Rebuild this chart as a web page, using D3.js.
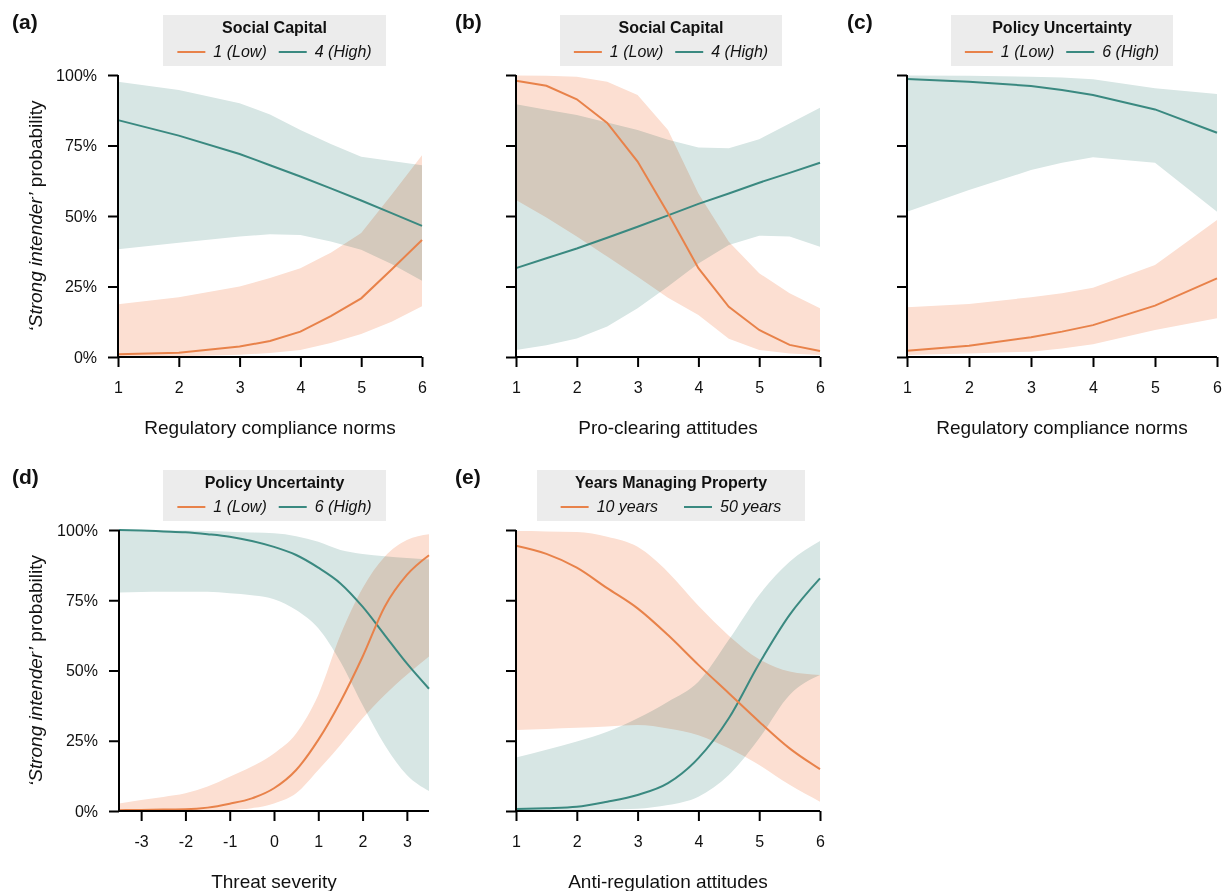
<!DOCTYPE html>
<html>
<head>
<meta charset="utf-8">
<script src="https://cdn.jsdelivr.net/npm/d3@7"></script>
<style>
body { margin: 0; background: #fff; }
svg text { font-family: "Liberation Sans", Arial, sans-serif; fill: #111; }
</style>
</head>
<body>
<svg width="1226" height="891"></svg>
<script>
var ORANGE = '#e8824a', TEAL = '#3a8980';
var ORANGE_BAND = '#fcdfd2', TEAL_BAND = '#d7e6e4';

// (a) social capital x regulatory compliance norms
var aX          = [1, 2, 3, 3.5, 4, 4.5, 5, 5.5, 6];
var aTealMid    = [84, 78.5, 72, 68, 64, 59.8, 55.5, 51, 46.5];
var aTealHi     = [97.6, 94.7, 90, 86, 80.5, 75.5, 71, 69.5, 68];
var aTealLo     = [38.2, 40.5, 42.7, 43.5, 43.3, 41, 38, 33, 27];
var aOrangeMid  = [1, 1.5, 3.7, 5.7, 9, 14.5, 20.8, 31, 41.5];
var aOrangeHi   = [18.7, 21.2, 25, 28, 31.5, 37, 44, 57.5, 71.5];
var aOrangeLo   = [0.1, 0.3, 0.8, 1.4, 2.5, 5, 8.2, 12.5, 18];

// (b) social capital x pro-clearing attitudes
var bX          = [1, 1.5, 2, 2.5, 3, 3.5, 4, 4.5, 5, 5.5, 6];
var bTealMid    = [31.5, 35, 38.5, 42.3, 46.2, 50.2, 54.3, 58, 61.8, 65.3, 68.9];
var bTealHi     = [89.6, 87.7, 85.8, 83.2, 80.5, 77, 74.3, 74, 77.2, 82.8, 88.4];
var bTealLo     = [2.5, 4.2, 6.6, 10.8, 17.3, 25, 33.2, 39.7, 43, 42.7, 39.1];
var bOrangeMid  = [98, 96.2, 91.4, 83, 69.3, 51, 31.5, 17.8, 9.6, 4.3, 2.1];
var bOrangeHi   = [99.8, 99.7, 99.4, 97.6, 92.9, 80.5, 58, 40.9, 29.7, 22.6, 17.3];
var bOrangeLo   = [55.7, 49.5, 42.7, 35.6, 28.5, 21, 14.9, 6.5, 2.5, 1.2, 0.7];

// (c) policy uncertainty x regulatory compliance norms
var cX          = [1, 2, 3, 3.5, 4, 5, 6];
var cTealMid    = [98.6, 97.6, 96.1, 94.7, 92.9, 87.8, 79.5];
var cTealHi     = [99.8, 99.7, 99.4, 99.1, 98.5, 95.3, 93.3];
var cTealLo     = [51.5, 59.2, 66.3, 68.9, 70.8, 68.9, 51.5];
var cOrangeMid  = [2.2, 4, 7, 9, 11.3, 18.2, 27.9];
var cOrangeHi   = [17.6, 18.8, 21.2, 22.6, 24.6, 32.6, 48.6];
var cOrangeLo   = [0.7, 1.2, 1.9, 3, 4.5, 9.6, 13.7];

// (d) policy uncertainty x threat severity
var dX          = [-3.5, -3, -2.5, -2, -1.5, -1, -0.5, 0, 0.5, 1, 1.5, 2, 2.5, 3, 3.5];
var dTealMid    = [100, 99.8, 99.5, 99.2, 98.5, 97.6, 96.1, 94, 91.1, 86.6, 81, 72.7, 62.6, 52.5, 43.5];
var dTealHi     = [100, 100, 99.9, 99.8, 99.6, 99.4, 99.1, 98.8, 97.8, 95.8, 92.9, 91.5, 90.7, 90, 89.5];
var dTealLo     = [77.8, 77.9, 78, 78, 78, 77.5, 76.8, 75.4, 71.5, 65, 53.1, 37.7, 23.5, 12.8, 7.1];
var dOrangeMid  = [0.3, 0.4, 0.5, 0.6, 1.2, 2.6, 4.5, 8.1, 14.6, 25.3, 38.9, 54.9, 72.7, 84, 91];
var dOrangeHi   = [2.7, 3.9, 5, 6.3, 8.7, 12.2, 15.8, 20.5, 27.6, 41.3, 62.6, 79.3, 90.5, 96.4, 98.5];
var dOrangeLo   = [0, 0, 0.1, 0.1, 0.2, 0.4, 1, 2.7, 6.3, 14.6, 23.5, 33, 41.3, 48.5, 55];

// (e) years managing property x anti-regulation attitudes
var eX          = [1, 1.5, 2, 2.5, 3, 3.5, 4, 4.5, 5, 5.5, 6];
var eOrangeMid  = [94.4, 91.5, 86.6, 79.3, 72.1, 62.6, 52, 41.9, 31.8, 22.3, 14.9];
var eOrangeHi   = [99.6, 99.5, 99.3, 97.6, 94, 85, 73, 62.4, 54, 49.6, 48.4];
var eOrangeLo   = [28.8, 29.2, 29.6, 30.1, 30.6, 29.4, 27, 22.3, 16.4, 9.3, 3.3];
var eTealMid    = [0.7, 1, 1.5, 3.3, 5.7, 9.9, 18.8, 33, 52.5, 69.8, 82.8];
var eTealHi     = [19, 21.8, 24.7, 28.2, 33, 38.9, 46, 60.9, 76.9, 88.7, 96.1];
var eTealLo     = [0.1, 0.2, 0.3, 0.5, 0.8, 2.1, 5.1, 12.8, 25.9, 41.3, 48.4];

var yTicks = [0, 25, 50, 75, 100];
var intTicks = [1, 2, 3, 4, 5, 6];
var threatTicks = [-3, -2, -1, 0, 1, 2, 3];

var panels = [
	{ label: '(a)', lx: 12, ly: 29, xr: [118, 422], yr: [357, 75], dom: [1, 6], ticks: intTicks,
	  xTitle: 'Regulatory compliance norms', yLabels: true, curve: d3.curveLinear,
	  leg: { title: 'Social Capital', names: ['1 (Low)', '4 (High)'], x: 163, y: 15, w: 223, gap: 12 },
	  xs: aX, teal: [aTealLo, aTealHi, aTealMid], orange: [aOrangeLo, aOrangeHi, aOrangeMid] },
	{ label: '(b)', lx: 455, ly: 29, xr: [516, 820], yr: [357, 75], dom: [1, 6], ticks: intTicks,
	  xTitle: 'Pro-clearing attitudes', yLabels: false, curve: d3.curveLinear,
	  leg: { title: 'Social Capital', names: ['1 (Low)', '4 (High)'], x: 560, y: 15, w: 222, gap: 12 },
	  xs: bX, teal: [bTealLo, bTealHi, bTealMid], orange: [bOrangeLo, bOrangeHi, bOrangeMid] },
	{ label: '(c)', lx: 847, ly: 29, xr: [907, 1217], yr: [357, 75], dom: [1, 6], ticks: intTicks,
	  xTitle: 'Regulatory compliance norms', yLabels: false, curve: d3.curveLinear,
	  leg: { title: 'Policy Uncertainty', names: ['1 (Low)', '6 (High)'], x: 951, y: 15, w: 222, gap: 12 },
	  xs: cX, teal: [cTealLo, cTealHi, cTealMid], orange: [cOrangeLo, cOrangeHi, cOrangeMid] },
	{ label: '(d)', lx: 12, ly: 484, xr: [119, 429], yr: [811, 530], dom: [-3.5, 3.5], ticks: threatTicks,
	  xTitle: 'Threat severity', yLabels: true, curve: d3.curveMonotoneX,
	  leg: { title: 'Policy Uncertainty', names: ['1 (Low)', '6 (High)'], x: 163, y: 470, w: 223, gap: 12 },
	  xs: dX, teal: [dTealLo, dTealHi, dTealMid], orange: [dOrangeLo, dOrangeHi, dOrangeMid] },
	{ label: '(e)', lx: 455, ly: 484, xr: [516, 820], yr: [811, 530], dom: [1, 6], ticks: intTicks,
	  xTitle: 'Anti-regulation attitudes', yLabels: false, curve: d3.curveMonotoneX,
	  leg: { title: 'Years Managing Property', names: ['10 years', '50 years'], x: 537, y: 470, w: 268, gap: 26 },
	  xs: eX, teal: [eTealLo, eTealHi, eTealMid], orange: [eOrangeLo, eOrangeHi, eOrangeMid] }
];

var svg = d3.select('svg');

var drawPanel = function (p) {
	var g = svg.append('g');
	var x = d3.scaleLinear().domain(p.dom).range(p.xr);
	var y = d3.scaleLinear().domain([0, 100]).range(p.yr);

	var band = function (lo, hi) {
		return d3.area()
			.curve(p.curve)
			.x(function (d, i) { return x(p.xs[i]); })
			.y0(function (d, i) { return y(lo[i]); })
			.y1(function (d, i) { return y(hi[i]); })(p.xs);
	};
	var line = function (mid) {
		return d3.line()
			.curve(p.curve)
			.x(function (d, i) { return x(p.xs[i]); })
			.y(function (d, i) { return y(mid[i]); })(p.xs);
	};

	g.append('path').attr('d', band(p.teal[0], p.teal[1]))
		.attr('fill', TEAL_BAND).style('mix-blend-mode', 'multiply');
	g.append('path').attr('d', band(p.orange[0], p.orange[1]))
		.attr('fill', ORANGE_BAND).style('mix-blend-mode', 'multiply');
	g.append('path').attr('d', line(p.teal[2]))
		.attr('fill', 'none').attr('stroke', TEAL).attr('stroke-width', 2);
	g.append('path').attr('d', line(p.orange[2]))
		.attr('fill', 'none').attr('stroke', ORANGE).attr('stroke-width', 2);

	// axes
	var yAxis = d3.axisLeft(y).tickValues(yTicks).tickSize(10).tickSizeOuter(0).tickPadding(11)
		.tickFormat(function (d) { return p.yLabels ? d + '%' : ''; });
	var xAxis = d3.axisBottom(x).tickValues(p.ticks).tickSize(10).tickSizeOuter(0).tickPadding(15)
		.tickFormat(d3.format('d'));

	var ya = g.append('g').attr('transform', 'translate(' + p.xr[0] + ',0)').call(yAxis);
	var xa = g.append('g').attr('transform', 'translate(0,' + p.yr[0] + ')').call(xAxis);
	[ya, xa].forEach(function (a) {
		a.attr('font-size', 16).attr('font-family', '"Liberation Sans", Arial, sans-serif');
		a.selectAll('path, line').attr('stroke', '#000').attr('stroke-width', 2);
		a.selectAll('text').attr('fill', '#111');
	});
	ya.select('.domain').attr('d', 'M0,' + (p.yr[0] + 1) + 'V' + p.yr[1]);
	xa.select('.domain').attr('d', 'M' + (p.xr[0] - 1) + ',0H' + p.xr[1]);
	xa.selectAll('text').text(function (d) { return d; });

	// titles
	g.append('text')
		.attr('x', (p.xr[0] + p.xr[1]) / 2).attr('y', p.yr[0] + 77)
		.attr('text-anchor', 'middle').attr('font-size', 19)
		.text(p.xTitle);

	if (p.yLabels) {
		var yt = g.append('text')
			.attr('transform', 'translate(35,' + (p.yr[0] + p.yr[1]) / 2 + ') rotate(-90)')
			.attr('text-anchor', 'middle').attr('dy', '0.35em').attr('font-size', 19);
		yt.append('tspan').attr('font-style', 'italic').text('\u2018Strong intender\u2019');
		yt.append('tspan').text(' probability');
	}

	g.append('text')
		.attr('x', p.lx).attr('y', p.ly)
		.attr('font-size', 21).attr('font-weight', 'bold')
		.text(p.label);

	// legend
	var L = p.leg;
	var lg = g.append('g');
	lg.append('rect').attr('x', L.x).attr('y', L.y).attr('width', L.w).attr('height', 51)
		.attr('fill', '#ececec');
	lg.append('text').attr('x', L.x + L.w / 2).attr('y', L.y + 18)
		.attr('text-anchor', 'middle').attr('font-size', 16).attr('font-weight', 'bold')
		.text(L.title);

	var items = lg.append('g');
	var cx = 0;
	[ORANGE, TEAL].forEach(function (col, i) {
		items.append('line').attr('x1', cx).attr('x2', cx + 28)
			.attr('y1', L.y + 37).attr('y2', L.y + 37)
			.attr('stroke', col).attr('stroke-width', 2);
		var t = items.append('text').attr('x', cx + 36).attr('y', L.y + 42)
			.attr('font-size', 16).attr('font-style', 'italic')
			.text(L.names[i]);
		cx += 36 + t.node().getComputedTextLength() + L.gap;
	});
	var itemsW = cx - L.gap;
	items.attr('transform', 'translate(' + (L.x + (L.w - itemsW) / 2) + ',0)');
};

panels.forEach(drawPanel);
</script>
</body>
</html>
